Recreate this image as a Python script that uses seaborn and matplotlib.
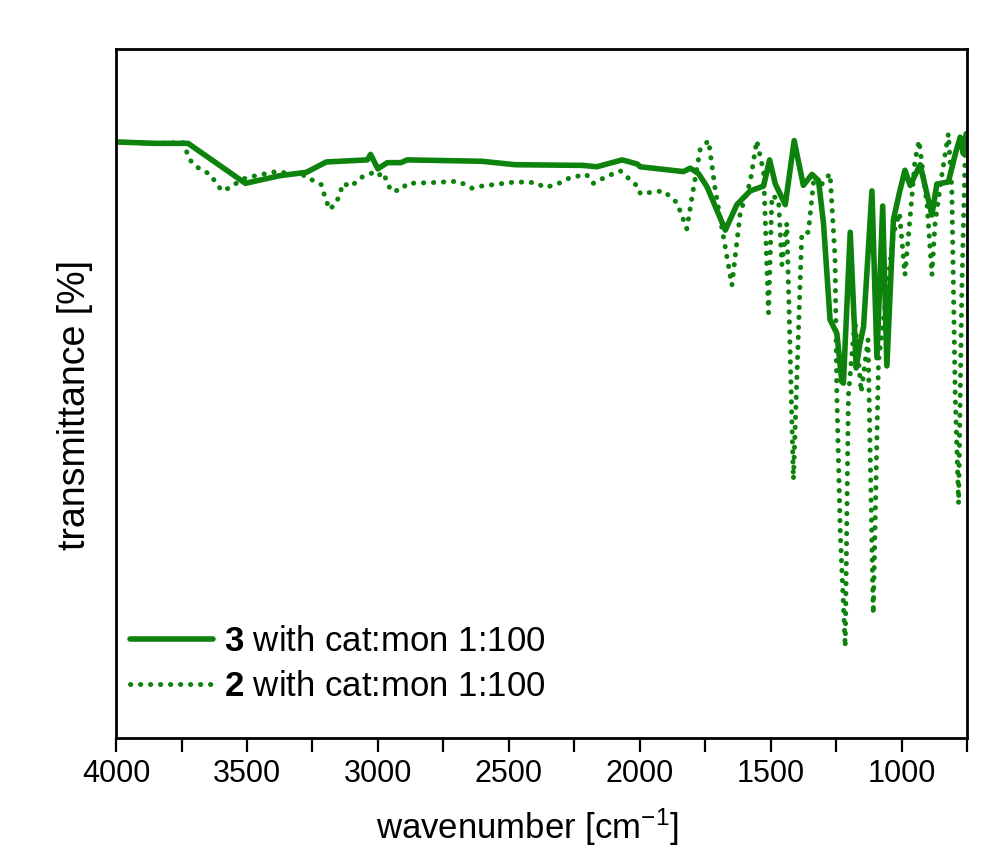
import numpy as np
import pandas as pd
import matplotlib
matplotlib.use("Agg")
import matplotlib.pyplot as plt
import seaborn as sns
from matplotlib.ticker import MultipleLocator, FixedLocator, NullFormatter

# ---------------- data ----------------
wn_3 = [3995, 3850, 3725, 3506, 3376, 3273, 3197, 3040, 3028, 3000, 2964, 2912,
        2888, 2603, 2475, 2216, 2164, 2067, 2009, 1998, 1833, 1807, 1775, 1743,
        1673, 1629, 1578, 1527, 1504, 1482, 1444, 1410, 1375, 1342, 1317, 1298,
        1273, 1247, 1228, 1222, 1196, 1173, 1160, 1145, 1113, 1094, 1072, 1056,
        1031, 1009, 987, 967, 929, 884, 865, 821, 795, 776, 764, 753]
t_3 = [86.5, 86.3, 86.3, 80.5, 81.6, 82.1, 83.6, 83.9, 84.7, 82.6, 83.5, 83.5,
       83.9, 83.7, 83.2, 83.1, 82.9, 83.9, 83.3, 82.9, 82.2, 82.7, 81.9, 80.0,
       73.7, 77.4, 79.4, 80.1, 83.9, 80.4, 77.4, 86.7, 80.2, 81.8, 80.9, 74.7,
       60.7, 58.7, 51.7, 51.5, 73.4, 53.7, 57.0, 59.7, 79.4, 55.2, 77.2, 54.0,
       75.2, 79.0, 82.4, 80.2, 83.2, 75.9, 80.4, 80.7, 84.7, 87.2, 84.8, 87.7]

wn_2 = [3995, 3850, 3744, 3718, 3693, 3641, 3596, 3563, 3518, 3479, 3390, 3325,
        3273, 3248, 3216, 3206, 3185, 3158, 3132, 3103, 3067, 3022, 3000, 2983,
        2964, 2951, 2912, 2888, 2796, 2693, 2641, 2603, 2475, 2396, 2364, 2319,
        2267, 2204, 2177, 2126, 2074, 2036, 2003, 1998, 1909, 1858, 1820, 1795,
        1769, 1737, 1712, 1648, 1616, 1578, 1553, 1527, 1508, 1495, 1470, 1457,
        1438, 1413, 1381, 1356, 1336, 1304, 1273, 1254, 1247, 1234, 1215, 1203,
        1178, 1154, 1128, 1108, 1088, 1060, 1031, 1008, 987, 967, 949, 933,
        917, 902, 884, 872, 846, 821, 808, 795, 782, 770, 757, 750]
t_2 = [86.5, 86.3, 86.4, 83.9, 82.9, 81.8, 79.4, 79.9, 81.1, 81.5, 82.2, 81.9,
       81.6, 80.9, 80.3, 79.0, 76.7, 77.7, 80.5, 80.0, 81.3, 82.0, 81.5, 82.1,
       80.8, 79.4, 79.5, 80.5, 80.6, 80.8, 79.8, 80.1, 80.7, 80.6, 79.9, 80.3,
       81.3, 81.8, 80.5, 81.5, 82.3, 81.0, 79.9, 79.0, 79.4, 77.7, 73.9, 79.7,
       85.4, 86.7, 79.7, 65.7, 76.2, 80.7, 86.7, 82.2, 61.7, 78.7, 78.2, 68.7,
       74.7, 37.5, 73.2, 73.4, 80.7, 80.4, 81.9, 69.7, 49.7, 29.8, 13.2, 49.7,
       60.7, 50.2, 57.8, 18.0, 54.7, 63.6, 73.2, 76.2, 67.2, 75.7, 83.7, 86.7,
       81.7, 77.2, 67.2, 74.7, 81.7, 87.7, 79.7, 49.7, 34.0, 64.7, 84.8, 86.0]

label_3 = r"$\mathbf{3}$ with cat:mon 1:100"
label_2 = r"$\mathbf{2}$ with cat:mon 1:100"

df3 = pd.DataFrame({"wavenumber": wn_3, "transmittance": t_3})
df2 = pd.DataFrame({"wavenumber": wn_2, "transmittance": t_2})

# ---------------- style ----------------
sns.set_theme(style="white")
plt.rcParams["font.family"] = ["Liberation Sans", "DejaVu Sans"]
plt.rcParams["mathtext.fontset"] = "custom"
plt.rcParams["mathtext.rm"] = "Liberation Sans"
plt.rcParams["mathtext.bf"] = "Liberation Sans:bold"
plt.rcParams["mathtext.it"] = "Liberation Sans:italic"
plt.rcParams["text.color"] = "black"
plt.rcParams["axes.labelcolor"] = "black"
plt.rcParams["xtick.color"] = "black"
plt.rcParams["ytick.color"] = "black"

green = "#0d820d"
lw_solid = 4.0
lw_dot = 3.6

fig = plt.figure(figsize=(9.97, 8.59), dpi=100)
ax = fig.add_axes([0.1164, 0.1409, 0.8535, 0.8021])

sns.lineplot(data=df3, x="wavenumber", y="transmittance", ax=ax, color=green,
             linewidth=lw_solid, estimator=None, label=label_3)
sns.lineplot(data=df2, x="wavenumber", y="transmittance", ax=ax, color=green,
             linewidth=lw_dot, estimator=None, label=label_2,
             linestyle=(0, (0.05, 1.95)), dash_capstyle="round")

ax.set_xlim(4000, 750)
ax.set_ylim(0, 100)

ax.xaxis.set_major_locator(MultipleLocator(500))
ax.xaxis.set_minor_locator(FixedLocator([3750, 3250, 2750, 2250, 1750, 1250, 750]))
ax.xaxis.set_minor_formatter(NullFormatter())
ax.tick_params(axis="x", which="both", direction="out", length=10, width=1.6,
               colors="black", labelsize=22, pad=5, bottom=True)
ax.set_yticks([])

for sp in ax.spines.values():
    sp.set_visible(True)
    sp.set_color("black")
    sp.set_linewidth(2)

ax.set_xlabel(r"wavenumber [cm$^{\mathregular{-1}}$]", fontsize=25)
ax.xaxis.set_label_coords(0.484, -0.099)
ax.set_ylabel("transmittance [%]", fontsize=27)
ax.yaxis.set_label_coords(-0.027, 0.483)

leg = ax.legend(loc="lower left", frameon=False, fontsize=25, handlelength=2.4,
                handletextpad=0.3, labelspacing=0.35, borderaxespad=0.0,
                borderpad=0.4, bbox_to_anchor=(0.0, 0.03))
for h, w in zip(leg.get_lines(), [lw_solid, lw_dot]):
    h.set_linewidth(w)

fig.savefig("out.png", dpi=100)
